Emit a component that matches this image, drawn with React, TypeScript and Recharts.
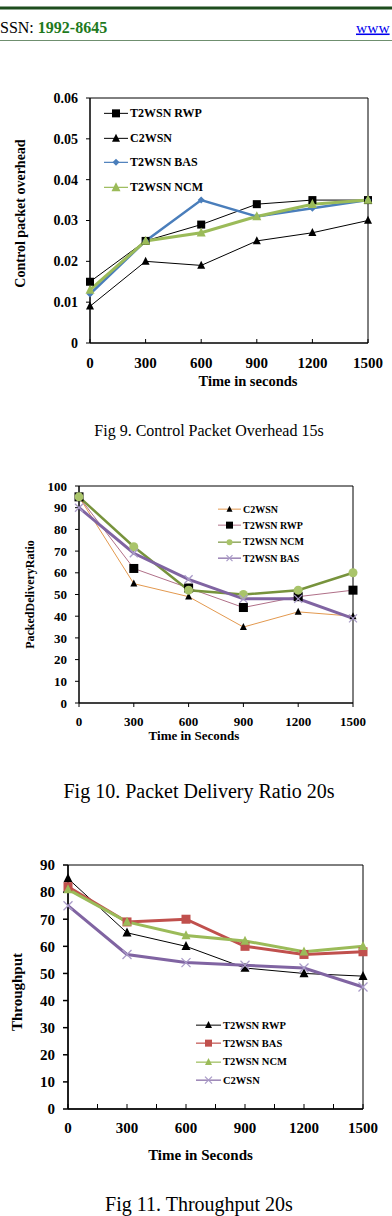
import React from "react";
import {
  LineChart,
  Line,
  XAxis,
  YAxis,
  ReferenceArea,
  Legend,
} from "recharts";

const SERIF = '"Liberation Serif", "Times New Roman", serif';

// Shared x categories (simulation time, seconds)
const times = [0, 300, 600, 900, 1200, 1500];

// Fig 9 – control packet overhead
const overheadRwp = [0.015, 0.025, 0.029, 0.034, 0.035, 0.035];
const overheadC2wsn = [0.009, 0.02, 0.019, 0.025, 0.027, 0.03];
const overheadBas = [0.012, 0.025, 0.035, 0.031, 0.033, 0.035];
const overheadNcm = [0.013, 0.025, 0.027, 0.031, 0.034, 0.035];
const overheadTicks = [0, 0.01, 0.02, 0.03, 0.04, 0.05, 0.06];

// Fig 10 – packet delivery ratio
const pdrC2wsn = [95, 55, 49, 35, 42, 40];
const pdrRwp = [95, 62, 53, 44, 49, 52];
const pdrNcm = [95, 72, 52, 50, 52, 60];
const pdrBas = [90, 69, 57, 48, 48, 39];
const pdrTicks = [0, 10, 20, 30, 40, 50, 60, 70, 80, 90, 100];

// Fig 11 – throughput
const thrRwp = [85, 65, 60, 52, 50, 49];
const thrBas = [82, 69, 70, 60, 57, 58];
const thrNcm = [81, 69, 64, 62, 58, 60];
const thrC2wsn = [75, 57, 54, 53, 52, 45];
const thrTicks = [0, 10, 20, 30, 40, 50, 60, 70, 80, 90];
const thrXTicks = [0, 150, 300, 450, 600, 750, 900, 1050, 1200, 1350, 1500];

type Shape = "square" | "triangle" | "diamond" | "circle" | "cross";

function markerPath(shape: Shape, cx: number, cy: number, s: number, fill: string, key?: string) {
  const h = s / 2;
  switch (shape) {
    case "square":
      return <rect key={key} x={cx - h} y={cy - h} width={s} height={s} fill={fill} />;
    case "triangle":
      return (
        <path
          key={key}
          d={`M${cx},${cy - s * 0.58} L${cx + h},${cy + s * 0.42} L${cx - h},${cy + s * 0.42} Z`}
          fill={fill}
        />
      );
    case "diamond":
      return (
        <path key={key} d={`M${cx},${cy - h} L${cx + h},${cy} L${cx},${cy + h} L${cx - h},${cy} Z`} fill={fill} />
      );
    case "circle":
      return <circle key={key} cx={cx} cy={cy} r={h} fill={fill} />;
    case "cross":
      return (
        <g key={key}>
          <line x1={cx - h} y1={cy - h} x2={cx + h} y2={cy + h} stroke={fill} strokeWidth={1.3} />
          <line x1={cx - h} y1={cy + h} x2={cx + h} y2={cy - h} stroke={fill} strokeWidth={1.3} />
        </g>
      );
  }
}

const dotRenderer = (shape: Shape, size: number, fill: string) => (p: any) => {
  const key = `${p.dataKey}-${p.index}`;
  if (p.cx == null || p.cy == null) return <g key={key} />;
  return markerPath(shape, p.cx, p.cy, size, fill, key);
};

type SeriesDef = {
  key: string;
  name: string;
  values: number[];
  stroke: string;
  width: number;
  shape: Shape;
  size: number;
  markerFill: string;
  legendSize: number;
};

function buildRows(series: SeriesDef[]) {
  return times.map((t, i) => {
    const row: Record<string, number> = { t };
    series.forEach((s) => {
      row[s.key] = s.values[i];
    });
    return row;
  });
}

function LegendBox({
  series,
  rowH,
  lineLen,
  fontSize,
}: {
  series: SeriesDef[];
  rowH: number;
  lineLen: number;
  fontSize: number;
}) {
  return (
    <div style={{ fontFamily: SERIF, fontWeight: 700, fontSize, color: "#000" }}>
      {series.map((s) => (
        <div key={s.key} style={{ height: rowH, display: "flex", alignItems: "center", whiteSpace: "nowrap" }}>
          <svg width={lineLen} height={rowH} style={{ display: "block" }}>
            <line x1={0} x2={lineLen} y1={rowH / 2} y2={rowH / 2} stroke={s.stroke} strokeWidth={Math.min(s.width, 1.2)} />
            {markerPath(s.shape, lineLen / 2, rowH / 2, s.legendSize, s.markerFill)}
          </svg>
          <span style={{ marginLeft: 2 }}>{s.name}</span>
        </div>
      ))}
    </div>
  );
}

const overheadSeries: SeriesDef[] = [
  { key: "rwp", name: "T2WSN RWP", values: overheadRwp, stroke: "#000", width: 1, shape: "square", size: 8, markerFill: "#000", legendSize: 8 },
  { key: "c2", name: "C2WSN", values: overheadC2wsn, stroke: "#000", width: 1, shape: "triangle", size: 8, markerFill: "#000", legendSize: 8 },
  { key: "bas", name: "T2WSN BAS", values: overheadBas, stroke: "#4a7ebb", width: 2.5, shape: "diamond", size: 7, markerFill: "#4a7ebb", legendSize: 7 },
  { key: "ncm", name: "T2WSN NCM", values: overheadNcm, stroke: "#9bbb59", width: 3, shape: "triangle", size: 9, markerFill: "#9bbb59", legendSize: 9 },
];

const pdrSeries: SeriesDef[] = [
  { key: "c2", name: "C2WSN", values: pdrC2wsn, stroke: "#e3994f", width: 1, shape: "triangle", size: 7, markerFill: "#000", legendSize: 6 },
  { key: "rwp", name: "T2WSN RWP", values: pdrRwp, stroke: "#b07088", width: 1, shape: "square", size: 9, markerFill: "#000", legendSize: 7 },
  { key: "ncm", name: "T2WSN NCM", values: pdrNcm, stroke: "#77933c", width: 2.5, shape: "circle", size: 9, markerFill: "#a9c46a", legendSize: 6 },
  { key: "bas", name: "T2WSN BAS", values: pdrBas, stroke: "#8064a2", width: 3, shape: "cross", size: 8, markerFill: "#a99bc8", legendSize: 6 },
];

const thrSeries: SeriesDef[] = [
  { key: "rwp", name: "T2WSN RWP", values: thrRwp, stroke: "#000", width: 1, shape: "triangle", size: 9, markerFill: "#000", legendSize: 7 },
  { key: "bas", name: "T2WSN BAS", values: thrBas, stroke: "#c0504d", width: 3, shape: "square", size: 9, markerFill: "#c0504d", legendSize: 7 },
  { key: "ncm", name: "T2WSN NCM", values: thrNcm, stroke: "#9bbb59", width: 3, shape: "triangle", size: 9, markerFill: "#9bbb59", legendSize: 7 },
  { key: "c2", name: "C2WSN", values: thrC2wsn, stroke: "#8064a2", width: 3, shape: "cross", size: 9, markerFill: "#a99bc8", legendSize: 7 },
];

function xTitle(text: string, fontSize: number, dy: number, dx: number) {
  return (props: any) => {
    const vb = props.viewBox;
    return (
      <text
        x={vb.x + vb.width / 2 + dx}
        y={vb.y + dy}
        textAnchor="middle"
        fontFamily={SERIF}
        fontWeight={700}
        fontSize={fontSize}
        fill="#000"
      >
        {text}
      </text>
    );
  };
}

function yTitle(text: string, fontSize: number, cxOff: number, cyOff: number) {
  return (props: any) => {
    const vb = props.viewBox;
    const cx = vb.x + cxOff;
    const cy = vb.y + vb.height / 2 + cyOff;
    return (
      <text
        x={cx}
        y={cy}
        transform={`rotate(-90, ${cx}, ${cy})`}
        textAnchor="middle"
        dominantBaseline="central"
        fontFamily={SERIF}
        fontWeight={700}
        fontSize={fontSize}
        fill="#000"
      >
        {text}
      </text>
    );
  };
}

function renderLines(series: SeriesDef[]) {
  return series.map((s) => (
    <Line
      key={s.key}
      type="linear"
      dataKey={s.key}
      name={s.name}
      stroke={s.stroke}
      strokeWidth={s.width}
      dot={dotRenderer(s.shape, s.size, s.markerFill)}
      activeDot={false}
      isAnimationActive={false}
    />
  ));
}

// X tick with a short inward mark; label only on every `labelStep` seconds
function makeInwardTick(margin: number, fontSize: number, labelStep: number, markLen: number) {
  return (props: any) => {
    const { x, y, payload } = props;
    const axisY = y - margin;
    const labelled = payload.value % labelStep === 0;
    return (
      <g>
        <line x1={x} x2={x} y1={axisY} y2={axisY - markLen} stroke="#000" />
        {labelled && (
          <text x={x} y={y} dy="0.75em" textAnchor="middle" fontFamily={SERIF} fontWeight={700} fontSize={fontSize} fill="#000">
            {payload.value}
          </text>
        )}
      </g>
    );
  };
}

const OverheadXTick = makeInwardTick(14, 15, 300, 4);
const ThroughputXTick = makeInwardTick(13, 15, 300, 5);

function OverheadChart() {
  const rows = buildRows(overheadSeries);
  return (
    <LineChart width={392} height={400} data={rows} margin={{ top: 98, right: 24, bottom: 12, left: 0 }}>
      <ReferenceArea x1={0} x2={1500} y1={0} y2={0.06} fill="none" stroke="#000" strokeWidth={1} ifOverflow="visible" />
      <XAxis
        dataKey="t"
        type="number"
        domain={[0, 1500]}
        ticks={times}
        interval={0}
        height={45}
        stroke="#000"
        tickLine={false}
        tickSize={0}
        tickMargin={14}
        tick={<OverheadXTick />}
        label={{ content: xTitle("Time in seconds", 14.5, 43, 19) }}
      />
      <YAxis
        type="number"
        domain={[0, 0.06]}
        ticks={overheadTicks}
        width={90}
        stroke="#000"
        tickSize={4}
        tickMargin={8}
        tickFormatter={(v: number) => (v === 0 ? "0" : v.toFixed(2))}
        tick={{ fontFamily: SERIF, fontWeight: 700, fontSize: 14, fill: "#000" }}
        label={{ content: yTitle("Control packet overhead", 14, 20, -7) }}
      />
      {renderLines(overheadSeries)}
      <Legend
        layout="vertical"
        align="center"
        verticalAlign="middle"
        wrapperStyle={{ left: 104, top: 101, width: "auto", height: "auto" }}
        content={() => <LegendBox series={overheadSeries} rowH={24.7} lineLen={24} fontSize={12} />}
      />
    </LineChart>
  );
}

function PdrChart() {
  const rows = buildRows(pdrSeries);
  return (
    <LineChart width={392} height={380} data={rows} margin={{ top: 86, right: 39, bottom: 27, left: 0 }}>
      <ReferenceArea x1={0} x2={1500} y1={0} y2={100} fill="none" stroke="#000" strokeWidth={1} ifOverflow="visible" />
      <XAxis
        dataKey="t"
        type="number"
        domain={[0, 1500]}
        ticks={times}
        height={50}
        stroke="#000"
        tickSize={4}
        tickMargin={10}
        tick={{ fontFamily: SERIF, fontWeight: 700, fontSize: 13, fill: "#000" }}
        label={{ content: xTitle("Time in Seconds", 13, 37, -22) }}
      />
      <YAxis
        type="number"
        domain={[0, 100]}
        ticks={pdrTicks}
        width={79}
        stroke="#000"
        tickSize={4}
        tickMargin={8}
        tick={{ fontFamily: SERIF, fontWeight: 700, fontSize: 13, fill: "#000" }}
        label={{ content: yTitle("PackedDeliveryRatio", 12, 30, 0) }}
      />
      {renderLines(pdrSeries)}
      <Legend
        layout="vertical"
        align="center"
        verticalAlign="middle"
        wrapperStyle={{ left: 218, top: 101, width: "auto", height: "auto" }}
        content={() => <LegendBox series={pdrSeries} rowH={16.3} lineLen={23} fontSize={10} />}
      />
    </LineChart>
  );
}

function ThroughputChart() {
  const rows = buildRows(thrSeries);
  return (
    <LineChart width={392} height={390} data={rows} margin={{ top: 65, right: 29, bottom: 21, left: 0 }}>
      <ReferenceArea x1={0} x2={1500} y1={0} y2={90} fill="none" stroke="#000" strokeWidth={1} ifOverflow="visible" />
      <XAxis
        dataKey="t"
        type="number"
        domain={[0, 1500]}
        ticks={thrXTicks}
        interval={0}
        height={60}
        stroke="#000"
        strokeWidth={1.5}
        tickLine={false}
        tickSize={0}
        tickMargin={13}
        tick={<ThroughputXTick />}
        label={{ content: xTitle("Time in Seconds", 15, 51, -15) }}
      />
      <YAxis
        type="number"
        domain={[0, 90]}
        ticks={thrTicks}
        width={68}
        stroke="#000"
        strokeWidth={1.5}
        tickSize={5}
        tickMargin={8}
        tick={{ fontFamily: SERIF, fontWeight: 700, fontSize: 15, fill: "#000" }}
        label={{ content: yTitle("Throughput", 15, 17, 5) }}
      />
      {renderLines(thrSeries)}
      <Legend
        layout="vertical"
        align="center"
        verticalAlign="middle"
        wrapperStyle={{ left: 196, top: 216, width: "auto", height: "auto" }}
        content={() => <LegendBox series={thrSeries} rowH={18.3} lineLen={25} fontSize={10.5} />}
      />
    </LineChart>
  );
}

export default function App() {
  return (
    <div
      style={{
        position: "absolute",
        left: 0,
        top: 0,
        width: 392,
        height: 1216,
        overflow: "hidden",
        background: "#fff",
        fontFamily: SERIF,
      }}
    >
      <svg width={392} height={1216} style={{ position: "absolute", left: 0, top: 0 }}>
        <rect x={0} y={6.5} width={392} height={3} fill="#1d4d1d" />
        <text x={0} y={32.5} fontFamily={SERIF} fontSize={16} fill="#000">
          SSN:{" "}
          <tspan fill="#1e7a1e" fontWeight={700}>
            1992-8645
          </tspan>
        </text>
        <text x={356} y={32.5} fontFamily={SERIF} fontSize={15.5} fill="#0000ee" textDecoration="underline">
          www
        </text>
        <rect x={0} y={40} width={392} height={1} fill="#6f8f6f" />
        <text x={209} y={436} textAnchor="middle" fontFamily={SERIF} fontSize={16} fill="#000">
          Fig 9. Control Packet Overhead 15s
        </text>
        <text x={199} y={798} textAnchor="middle" fontFamily={SERIF} fontSize={20} fill="#000">
          Fig 10. Packet Delivery Ratio 20s
        </text>
        <text x={199} y={1211} textAnchor="middle" fontFamily={SERIF} fontSize={20} fill="#000">
          Fig 11. Throughput 20s
        </text>
      </svg>
      <div style={{ position: "absolute", left: 0, top: 0 }}>
        <OverheadChart />
      </div>
      <div style={{ position: "absolute", left: 0, top: 400 }}>
        <PdrChart />
      </div>
      <div style={{ position: "absolute", left: 0, top: 800 }}>
        <ThroughputChart />
      </div>
    </div>
  );
}
